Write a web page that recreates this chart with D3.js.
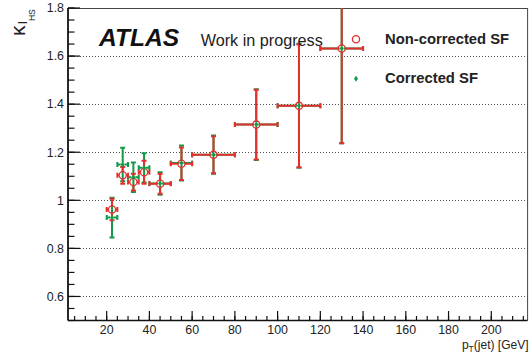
<!DOCTYPE html>
<html>
<head>
<meta charset="utf-8">
<script src="https://cdn.jsdelivr.net/npm/d3@7"></script>
<style>
  html, body { margin: 0; padding: 0; background: #fff; }
  svg { display: block; font-family: "Liberation Sans", Arial, Helvetica, sans-serif; }
</style>
</head>
<body>
<svg id="chart" width="532" height="354"></svg>
<script>
// pT bins of the jets (GeV)
const binLow  = [20, 25, 30, 35, 40, 50, 60, 80, 100, 120];
const binHigh = [25, 30, 35, 40, 50, 60, 80, 100, 120, 140];

// kappa_{l_HS} per bin
const nonCorrected    = [0.962, 1.104, 1.076, 1.117, 1.069, 1.152, 1.190, 1.315, 1.393, 1.632];
const nonCorrectedErr = [0.045, 0.035, 0.035, 0.048, 0.042, 0.068, 0.077, 0.145, 0.255, 0.395];
const corrected       = [0.928, 1.149, 1.096, 1.135, 1.070, 1.155, 1.190, 1.315, 1.393, 1.632];
const correctedErr    = [0.083, 0.070, 0.061, 0.061, 0.047, 0.073, 0.080, 0.147, 0.258, 0.395];

// axis ticks
const xMajorTicks = [20, 40, 60, 80, 100, 120, 140, 160, 180, 200];
const xMinorTicks = d3.range(5, 217, 5);
const yMajorTicks = [0.6, 0.8, 1.0, 1.2, 1.4, 1.6, 1.8];
const yTickLabels = ["0.6", "0.8", "1", "1.2", "1.4", "1.6", "1.8"];
const yMinorTicks = d3.range(0.5, 1.801, 0.05);

const RED = "#e3302d";
const GREEN = "#12994a";

const svg = d3.select("#chart");
const frame = { left: 68, right: 527.6, top: 8, bottom: 320.5 };

const x = d3.scaleLinear().domain([1.9, 217]).range([frame.left, frame.right]);
const y = d3.scaleLinear().domain([0.5, 1.8]).range([frame.bottom, frame.top]);

svg.append("defs").append("clipPath").attr("id", "plotclip")
  .append("rect")
  .attr("x", frame.left).attr("y", frame.top)
  .attr("width", frame.right - frame.left)
  .attr("height", frame.bottom - frame.top);

// horizontal dotted grid
svg.append("g").selectAll("line")
  .data(yMajorTicks)
  .join("line")
  .attr("x1", frame.left).attr("x2", frame.right)
  .attr("y1", d => Math.round(y(d)) + 0.5).attr("y2", d => Math.round(y(d)) + 0.5)
  .attr("stroke", "#555").attr("stroke-width", 1)
  .attr("stroke-dasharray", "1,2");

// frame (top and right thin)
svg.append("path")
  .attr("d", `M${frame.left},${frame.top + 0.5}H${frame.right}V${frame.bottom}`)
  .attr("fill", "none").attr("stroke", "#444").attr("stroke-width", 1);

// y axis: ticks pointing inward
const yAxis = svg.append("g");
yAxis.selectAll("line.minor")
  .data(yMinorTicks)
  .join("line").attr("class", "minor")
  .attr("x1", frame.left).attr("x2", frame.left + 6.5)
  .attr("y1", d => y(d)).attr("y2", d => y(d))
  .attr("stroke", "#111").attr("stroke-width", 1.2);
yAxis.selectAll("line.major")
  .data(yMajorTicks)
  .join("line").attr("class", "major")
  .attr("x1", frame.left).attr("x2", frame.left + 12)
  .attr("y1", d => y(d)).attr("y2", d => y(d))
  .attr("stroke", "#111").attr("stroke-width", 1.2);
yAxis.selectAll("text")
  .data(yMajorTicks)
  .join("text")
  .attr("x", 64).attr("y", d => y(d) + 4.3)
  .attr("text-anchor", "end")
  .attr("font-size", 12.4).attr("fill", "#222")
  .text((d, i) => yTickLabels[i]);
yAxis.append("line")
  .attr("x1", frame.left).attr("x2", frame.left)
  .attr("y1", frame.top).attr("y2", frame.bottom)
  .attr("stroke", "#111").attr("stroke-width", 1.8);

// x axis: ticks pointing inward
const xAxis = svg.append("g");
xAxis.selectAll("line.minor")
  .data(xMinorTicks)
  .join("line").attr("class", "minor")
  .attr("x1", d => x(d)).attr("x2", d => x(d))
  .attr("y1", frame.bottom).attr("y2", frame.bottom - 4.5)
  .attr("stroke", "#111").attr("stroke-width", 1.2);
xAxis.selectAll("line.major")
  .data(xMajorTicks)
  .join("line").attr("class", "major")
  .attr("x1", d => x(d)).attr("x2", d => x(d))
  .attr("y1", frame.bottom).attr("y2", frame.bottom - 9.5)
  .attr("stroke", "#111").attr("stroke-width", 1.2);
xAxis.selectAll("text")
  .data(xMajorTicks)
  .join("text")
  .attr("x", d => x(d)).attr("y", 334)
  .attr("text-anchor", "middle")
  .attr("font-size", 12.4).attr("fill", "#222")
  .text(d => d);
xAxis.append("line")
  .attr("x1", frame.left).attr("x2", frame.right)
  .attr("y1", frame.bottom).attr("y2", frame.bottom)
  .attr("stroke", "#111").attr("stroke-width", 1.6);

// axis titles
const xt = svg.append("text")
  .attr("x", 528.5).attr("y", 348.5)
  .attr("text-anchor", "end").attr("font-size", 12).attr("fill", "#222");
xt.append("tspan").text("p");
xt.append("tspan").attr("font-size", 8.5).attr("dy", 3).text("T");
xt.append("tspan").attr("dy", -3).text("(jet) [GeV]");

const yt = svg.append("text")
  .attr("transform", "translate(25,36) rotate(-90)")
  .attr("fill", "#222");
yt.append("tspan").attr("font-size", 21).text("κ");
yt.append("tspan").attr("font-size", 13).attr("dx", 1.5).attr("dy", 2).text("l");
yt.append("tspan").attr("font-size", 8.5).attr("dy", 8).text("HS");

// data layers
const points = (vals, errs) => vals.map((v, i) => ({
  xc: (binLow[i] + binHigh[i]) / 2, lo: binLow[i], hi: binHigh[i], v, e: errs[i]
}));

function drawErrors(g, data, color, gap) {
  const cap = 2.5;
  data.forEach(d => {
    const cx = x(d.xc), cy = y(d.v);
    const xl = x(d.lo), xr = x(d.hi);
    const yu = y(d.v + d.e), yd = y(d.v - d.e);
    const segs = [
      [xl, cy, cx - gap, cy], [cx + gap, cy, xr, cy],
      [cx, yu, cx, cy - gap], [cx, cy + gap, cx, yd],
      [xl, cy - cap, xl, cy + cap], [xr, cy - cap, xr, cy + cap]
    ];
    if (yu > frame.top) segs.push([cx - cap, yu, cx + cap, yu]);
    segs.push([cx - cap, yd, cx + cap, yd]);
    g.selectAll(null).data(segs).join("line")
      .attr("x1", s => s[0]).attr("y1", s => s[1])
      .attr("x2", s => s[2]).attr("y2", s => s[3])
      .attr("stroke", color).attr("stroke-width", 2);
  });
}

const plot = svg.append("g").attr("clip-path", "url(#plotclip)");
const corrPts = points(corrected, correctedErr);
const nonPts = points(nonCorrected, nonCorrectedErr);

drawErrors(plot.append("g"), corrPts, GREEN, 2);
drawErrors(plot.append("g"), nonPts, RED, 3.6);

plot.append("g").selectAll("circle")
  .data(nonPts).join("circle")
  .attr("cx", d => x(d.xc)).attr("cy", d => y(d.v)).attr("r", 3.6)
  .attr("fill", "none").attr("stroke", RED).attr("stroke-width", 1.3);

const diamond = (cx, cy) => `M${cx},${cy - 3}L${cx + 2},${cy}L${cx},${cy + 3}L${cx - 2},${cy}Z`;
plot.append("g").selectAll("path")
  .data(corrPts).join("path")
  .attr("d", d => diamond(x(d.xc), y(d.v)))
  .attr("fill", GREEN);

// labels
svg.append("text")
  .attr("x", 99).attr("y", 45.7)
  .attr("font-size", 24.6).attr("font-weight", "bold").attr("font-style", "italic")
  .attr("fill", "#111").text("ATLAS");
svg.append("text")
  .attr("x", 200.7).attr("y", 45.7)
  .attr("font-size", 16.2).attr("fill", "#222").text("Work in progress");

// legend
const legend = svg.append("g");
legend.append("circle")
  .attr("cx", 356).attr("cy", 39.3).attr("r", 3.6)
  .attr("fill", "none").attr("stroke", RED).attr("stroke-width", 1.3);
legend.append("text")
  .attr("x", 385).attr("y", 44.3)
  .attr("font-size", 14.8).attr("font-weight", "bold").attr("fill", "#222")
  .text("Non-corrected SF");
legend.append("path")
  .attr("d", diamond(356, 78.7)).attr("fill", GREEN);
legend.append("text")
  .attr("x", 385).attr("y", 83.3)
  .attr("font-size", 14.8).attr("font-weight", "bold").attr("fill", "#222")
  .text("Corrected SF");
</script>
</body>
</html>
